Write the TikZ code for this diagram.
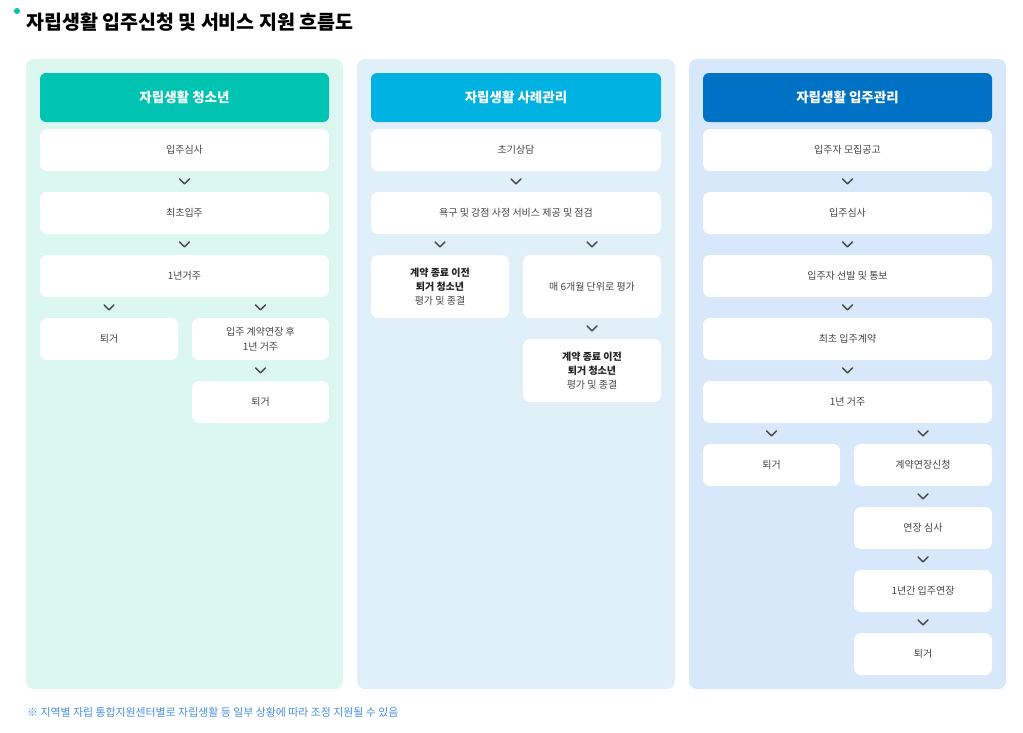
\documentclass[tikz,border=0pt]{standalone}
\usepackage{fontspec}
\setmainfont{Noto Sans CJK KR}
\usetikzlibrary{calc}
\definecolor{bgA}{RGB}{220,247,240}
\definecolor{bgB}{RGB}{224,240,248}
\definecolor{bgC}{RGB}{214,232,250}
\definecolor{hdA}{RGB}{0,196,177}
\definecolor{hdB}{RGB}{0,178,226}
\definecolor{hdC}{RGB}{0,114,198}
\definecolor{txt}{RGB}{70,70,70}
\definecolor{chevc}{RGB}{70,70,70}
\definecolor{note}{RGB}{74,143,224}
\definecolor{dotc}{RGB}{0,196,170}
\tikzset{
  panel/.style={rounded corners=8pt, draw=none},
  header/.style={rounded corners=6pt, text=white, minimum height=49pt, inner sep=0pt,
     font=\fontsize{13.5}{15}\selectfont\bfseries},
  box/.style={fill=white, rounded corners=7pt, minimum height=42pt, inner sep=0pt,
     align=center, text=txt, font=\fontsize{10}{15}\selectfont},
  tallbox/.style={box, minimum height=63pt, font=\fontsize{10}{14}\selectfont},
  chevline/.style={draw=chevc, line width=1.4pt, line cap=round, line join=round}
}
\newcommand{\chev}[1]{\draw[chevline] ($(#1.north)+(-5pt,13pt)$) -- ($(#1.north)+(0pt,8pt)$) -- ($(#1.north)+(5pt,13pt)$);}
\newcommand{\bl}[1]{{\bfseries\color[RGB]{34,34,34}#1}}
\begin{document}
\begin{tikzpicture}[x=1pt,y=-1pt]
\useasboundingbox (0,0) rectangle (1023,732);
\fill[white] (0,0) rectangle (1023,732);
% title
\fill[dotc] (17,11) circle (3pt);
\node[anchor=west, inner sep=0pt, font=\fontsize{19.5}{22}\selectfont\bfseries, text=black] (title) at (26,22.5) {자립생활 입주신청 및 서비스 지원 흐름도};
% panels
\fill[panel, bgA] (26,59) rectangle (343,689);
\fill[panel, bgB] (357,59) rectangle (675,689);
\fill[panel, bgC] (689,59) rectangle (1006,689);
% headers
\node[header, fill=hdA, minimum width=289pt] (hA) at (184.5,97.5) {자립생활 청소년};
\node[header, fill=hdB, minimum width=290pt] (hB) at (516,97.5) {자립생활 사례관리};
\node[header, fill=hdC, minimum width=289pt] (hC) at (847.5,97.5) {자립생활 입주관리};
% panel A
\node[box, minimum width=289pt] (a1) at (184.5,150) {입주심사};
\node[box, minimum width=289pt] (a2) at (184.5,213) {최초입주};
\node[box, minimum width=289pt] (a3) at (184.5,276) {1년거주};
\node[box, minimum width=138pt] (a4) at (109,339) {퇴거};
\node[box, minimum width=137pt] (a5) at (260.5,339) {입주 계약연장 후\\1년 거주};
\node[box, minimum width=137pt] (a6) at (260.5,402) {퇴거};
\chev{a2}\chev{a3}\chev{a4}\chev{a5}\chev{a6}
% panel B
\node[box, minimum width=290pt] (b1) at (516,150) {초기상담};
\node[box, minimum width=290pt] (b2) at (516,213) {욕구 및 강점 사정 서비스 제공 및 점검};
\node[tallbox, minimum width=138pt] (b3) at (440,286.5) {\bl{계약 종료 이전}\\\bl{퇴거 청소년}\\평가 및 종결};
\node[tallbox, minimum width=138pt] (b4) at (592,286.5) {매 6개월 단위로 평가};
\node[tallbox, minimum width=138pt] (b5) at (592,370.5) {\bl{계약 종료 이전}\\\bl{퇴거 청소년}\\평가 및 종결};
\chev{b2}\chev{b3}\chev{b4}\chev{b5}
% panel C
\node[box, minimum width=289pt] (c1) at (847.5,150) {입주자 모집공고};
\node[box, minimum width=289pt] (c2) at (847.5,213) {입주심사};
\node[box, minimum width=289pt] (c3) at (847.5,276) {입주자 선발 및 통보};
\node[box, minimum width=289pt] (c4) at (847.5,339) {최초 입주계약};
\node[box, minimum width=289pt] (c5) at (847.5,402) {1년 거주};
\node[box, minimum width=137pt] (c6) at (771.5,465) {퇴거};
\node[box, minimum width=138pt] (c7) at (923,465) {계약연장신청};
\node[box, minimum width=138pt] (c8) at (923,528) {연장 심사};
\node[box, minimum width=138pt] (c9) at (923,591) {1년간 입주연장};
\node[box, minimum width=138pt] (c10) at (923,654) {퇴거};
\chev{c2}\chev{c3}\chev{c4}\chev{c5}\chev{c6}\chev{c7}\chev{c8}\chev{c9}\chev{c10}
% footer
\node[anchor=west, inner sep=0pt, text=note, font=\fontsize{10.9}{13}\selectfont] (foot) at (27,712) {※ 지역별 자립 통합지원센터별로 자립생활 등 일부 상황에 따라 조정 지원될 수 있음};
\end{tikzpicture}
\end{document}
